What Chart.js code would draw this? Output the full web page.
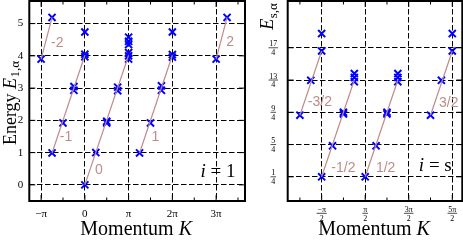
<!DOCTYPE html>
<html>
<head>
<meta charset="utf-8">
<script src="https://cdn.jsdelivr.net/npm/chart.js@4"></script>
<style>
html, body { margin: 0; padding: 0; background: #fff; }
#wrap { position: relative; width: 463px; height: 247px; }
canvas { position: absolute; left: 0; top: 0; }
</style>
</head>
<body>
<div id="wrap">
<canvas id="left" width="463" height="247"></canvas>
<canvas id="right" width="463" height="247"></canvas>
</div>
<script>
// momentum values are in units of pi

// left panel, i = 1
var leftK = [-1, -0.75, 0, 0, 0, -0.25, -0.25, -0.5, -0.75, 0, 0.25, 0.5, 0.5, 0.75, 0.75,
             1, 1, 1, 1, 1, 1, 1.25, 1.5, 1.75, 1.75, 2, 2, 2, 3, 3.25];
var leftE = [3.9, 5.19, 4.74, 4.05, 3.97, 3.05, 2.93, 1.92, 0.99, 0, 1.0, 1.97, 1.92, 3.03, 2.92,
             4.58, 4.45, 4.35, 4.1, 4.0, 3.9, 0.99, 1.92, 3.07, 2.93, 4.74, 4.04, 3.96, 3.9, 5.19];
var leftBandNames = ['-2', '-1', '0', '1', '2'];
var leftBandK = [[-1, -0.75], [-0.75, 0], [0, 1], [1.25, 2], [3, 3.25]];
var leftBandE = [[3.9, 5.19], [0.99, 4.02], [0, 4.02], [0.99, 4.02], [3.9, 5.19]];
var leftLabelK = [-0.63, -0.43, 0.32, 1.61, 3.32];
var leftLabelE = [4.4, 1.48, 0.45, 1.49, 4.43];
var leftXTicks = [-1, 0, 1, 2, 3];
var leftXLabels = ['−π', '0', 'π', '2π', '3π'];
var leftXMinor = [-0.5, 0.5, 1.5, 2.5, 3.5];
var leftYTicks = [0, 1, 2, 3, 4, 5];
var leftYLabels = ['0', '1', '2', '3', '4', '5'];

// right panel, i = s
var rightK = [-1, -0.75, -0.5, -0.5, -0.5, -0.25, 0, 0, 0.25, 0.25, 0.25,
              0.5, 0.75, 1, 1, 1.25, 1.25, 1.25, 2, 2.25, 2.5, 2.5];
var rightE = [2.16, 3.24, 4.15, 4.69, 0.25, 1.21, 2.25, 2.2, 3.45, 3.33, 3.2,
              0.25, 1.21, 2.25, 2.2, 3.45, 3.33, 3.2, 2.16, 3.24, 4.15, 4.69];
var rightBandNames = ['-3/2', '-1/2', '1/2', '3/2'];
var rightBandK = [[-1, -0.5], [-0.5, 0.25], [0.5, 1.25], [2, 2.5]];
var rightBandE = [[2.16, 4.15], [0.25, 3.25], [0.25, 3.25], [2.16, 4.15]];
var rightLabelK = [-0.54, 0.0, 0.97, 2.42];
var rightLabelE = [2.58, 0.52, 0.52, 2.53];
var rightXTicks = [-0.5, 0.5, 1.5, 2.5];
var rightXLabels = [['−π', '2'], ['π', '2'], ['3π', '2'], ['5π', '2']];
var rightXMinor = [-1, 0, 1, 2];
var rightYTicks = [0.25, 1.25, 2.25, 3.25, 4.25];
var rightYLabels = [['1', '4'], ['5', '4'], ['9', '4'], ['13', '4'], ['17', '4']];

var serif = '"Liberation Serif", "DejaVu Serif", serif';
var bandColor = '#bf8b8b';

function line(ctx, x1, y1, x2, y2) {
    ctx.beginPath();
    ctx.moveTo(x1, y1);
    ctx.lineTo(x2, y2);
    ctx.stroke();
}

function drawFrac(ctx, frac, x, y, size) {
    ctx.font = size + 'px ' + serif;
    var w = Math.max(ctx.measureText(frac[0]).width, ctx.measureText(frac[1]).width) + 1.5;
    ctx.textAlign = 'center';
    ctx.textBaseline = 'alphabetic';
    ctx.fillText(frac[0], x, y - 1.5);
    ctx.textBaseline = 'top';
    ctx.fillText(frac[1], x, y + 1.2);
    ctx.lineWidth = 0.7;
    line(ctx, x - w / 2, y, x + w / 2, y);
}

// text made of a roman part, an italic symbol, a subscript and a roman tail, centred on x
function drawMath(ctx, roman, sym, sub, tail, x, y, size) {
    var subSize = Math.round(size * 0.7);
    ctx.font = size + 'px ' + serif;
    var w1 = ctx.measureText(roman).width;
    var w4 = ctx.measureText(tail).width;
    ctx.font = 'italic ' + size + 'px ' + serif;
    var w2 = ctx.measureText(sym).width;
    ctx.font = subSize + 'px ' + serif;
    var w3 = sub ? ctx.measureText(sub).width + 0.5 : 0;
    var x0 = x - (w1 + w2 + w3 + w4) / 2;
    ctx.textAlign = 'left';
    ctx.textBaseline = 'alphabetic';
    ctx.font = size + 'px ' + serif;
    ctx.fillText(roman, x0, y);
    ctx.fillText(tail, x0 + w1 + w2 + w3, y);
    ctx.font = 'italic ' + size + 'px ' + serif;
    ctx.fillText(sym, x0 + w1, y);
    if (sub) {
        ctx.font = subSize + 'px ' + serif;
        ctx.fillText(sub, x0 + w1 + w2 + 0.5, y + size * 0.22);
    }
}

function makeDecor(cfg) {
    return {
        id: 'decor',
        afterDraw: function (chart) {
            var ctx = chart.ctx, a = chart.chartArea;
            var xs = chart.scales.x, ys = chart.scales.y;
            ctx.save();

            // band labels
            ctx.fillStyle = bandColor;
            ctx.font = '14px "Liberation Sans", sans-serif';
            ctx.textAlign = 'center';
            ctx.textBaseline = 'middle';
            cfg.bandNames.forEach(function (n, i) {
                ctx.fillText(n, xs.getPixelForValue(cfg.labelK[i]), ys.getPixelForValue(cfg.labelE[i]));
            });

            // inward ticks
            ctx.strokeStyle = '#000';
            ctx.fillStyle = '#000';
            ctx.lineWidth = 1;
            function xtick(v, len) {
                var p = xs.getPixelForValue(v);
                line(ctx, p, a.bottom, p, a.bottom - len);
                line(ctx, p, a.top, p, a.top + len);
            }
            function ytick(v, len) {
                var p = ys.getPixelForValue(v);
                line(ctx, a.left, p, a.left + len, p);
                line(ctx, a.right, p, a.right - len, p);
            }
            cfg.xTicks.forEach(function (v) { xtick(v, 6); });
            cfg.xMinor.forEach(function (v) { xtick(v, 3.5); });
            cfg.yTicks.forEach(function (v) { ytick(v, 6); });

            // frame
            ctx.lineWidth = 2;
            ctx.strokeRect(a.left, a.top, a.right - a.left, a.bottom - a.top);

            // tick labels
            cfg.xTicks.forEach(function (v, i) {
                var lab = cfg.xLabels[i], p = xs.getPixelForValue(v);
                if (Array.isArray(lab)) {
                    drawFrac(ctx, lab, p, a.bottom + 12.3, 8);
                } else {
                    ctx.font = '11px ' + serif;
                    ctx.textAlign = 'center';
                    ctx.textBaseline = 'top';
                    ctx.fillText(lab, p, a.bottom + 8);
                }
            });
            cfg.yTicks.forEach(function (v, i) {
                var lab = cfg.yLabels[i], p = ys.getPixelForValue(v);
                if (Array.isArray(lab)) {
                    drawFrac(ctx, lab, a.left - 14.4, p, 8);
                } else {
                    ctx.font = '11px ' + serif;
                    ctx.textAlign = 'right';
                    ctx.textBaseline = 'middle';
                    ctx.fillText(lab, a.left - 6, p);
                }
            });

            // axis titles
            drawMath(ctx, 'Momentum ', 'K', '', '', (a.left + a.right) / 2 - 1, 235, 20);
            ctx.save();
            ctx.translate(cfg.yTitle.x, cfg.yTitle.y);
            ctx.rotate(-Math.PI / 2);
            drawMath(ctx, cfg.yTitle.roman, 'E', cfg.yTitle.sub, '', 0, 0, 18);
            ctx.restore();

            // panel tag
            drawMath(ctx, '', 'i', '', ' = ' + cfg.tag, a.right - 27, cfg.tagY, 19);
            ctx.restore();
        }
    };
}

function makeChart(id, cfg) {
    var datasets = [];
    cfg.bandK.forEach(function (ks, i) {
        datasets.push({
            data: ks.map(function (k, j) { return { x: k, y: cfg.bandE[i][j] }; }),
            showLine: true,
            borderColor: bandColor,
            borderWidth: 1.2,
            pointRadius: 0
        });
    });
    datasets.push({
        data: cfg.k.map(function (k, j) { return { x: k, y: cfg.e[j] }; }),
        pointStyle: 'crossRot',
        pointRadius: 5,
        borderWidth: 2,
        borderColor: '#0000ff',
        backgroundColor: '#0000ff'
    });

    function axis(min, max, ticks) {
        return {
            type: 'linear',
            min: min,
            max: max,
            afterBuildTicks: function (s) {
                s.ticks = ticks.map(function (v) { return { value: v }; });
            },
            ticks: { display: false },
            grid: { color: '#000', lineWidth: 1, drawTicks: false },
            border: { display: false, dash: [5.5, 2.5] }
        };
    }

    return new Chart(document.getElementById(id), {
        type: 'scatter',
        data: { datasets: datasets },
        options: {
            responsive: false,
            animation: false,
            layout: { padding: cfg.pad, autoPadding: false },
            plugins: { legend: { display: false }, tooltip: { enabled: false } },
            scales: {
                x: axis(cfg.xMin, cfg.xMax, cfg.xTicks),
                y: axis(-0.5, 5.7, cfg.yTicks)
            }
        },
        plugins: [makeDecor(cfg)]
    });
}

makeChart('left', {
    k: leftK, e: leftE,
    bandNames: leftBandNames, bandK: leftBandK, bandE: leftBandE,
    labelK: leftLabelK, labelE: leftLabelE,
    xTicks: leftXTicks, xLabels: leftXLabels, xMinor: leftXMinor,
    yTicks: leftYTicks, yLabels: leftYLabels,
    xMin: -1.27, xMax: 3.66,
    pad: { left: 29.3, right: 218, top: 1, bottom: 46 },
    yTitle: { x: 15.5, y: 103, roman: 'Energy ', sub: '1,α' },
    tag: '1', tagY: 177
});

makeChart('right', {
    k: rightK, e: rightE,
    bandNames: rightBandNames, bandK: rightBandK, bandE: rightBandE,
    labelK: rightLabelK, labelE: rightLabelE,
    xTicks: rightXTicks, xLabels: rightXLabels, xMinor: rightXMinor,
    yTicks: rightYTicks, yLabels: rightYLabels,
    xMin: -1.28, xMax: 2.73,
    pad: { left: 287.7, right: 0.7, top: 1, bottom: 46 },
    yTitle: { x: 273, y: 16.5, roman: '', sub: 's,α' },
    tag: 's', tagY: 171
});
</script>
</body>
</html>
